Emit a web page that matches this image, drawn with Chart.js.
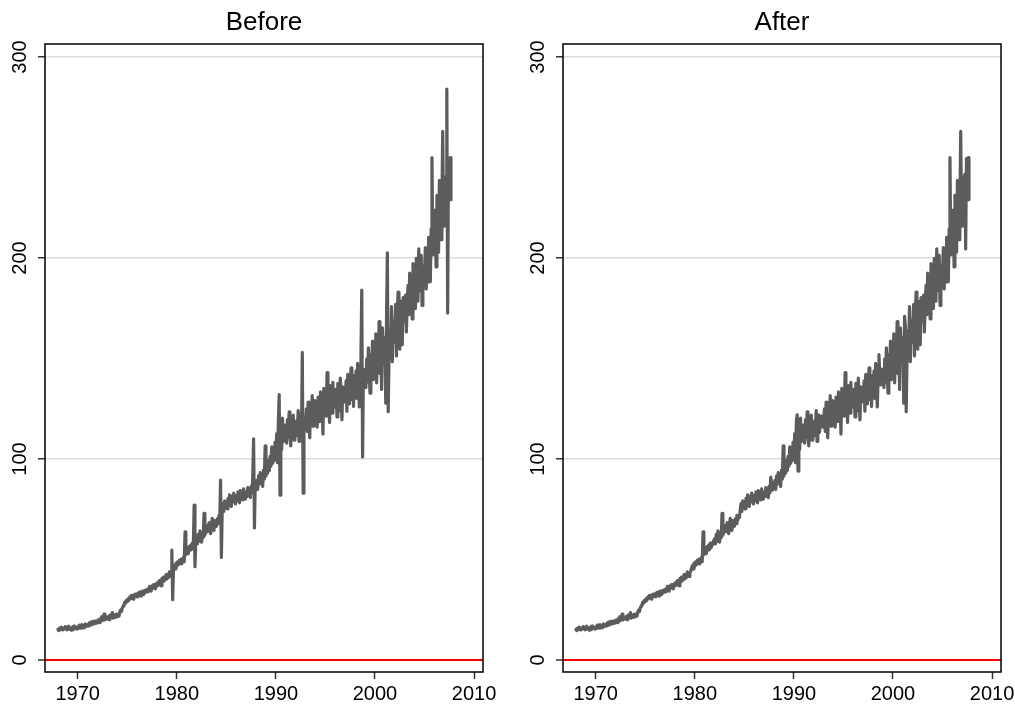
<!DOCTYPE html>
<html>
<head>
<meta charset="utf-8">
<title>Before / After</title>
<script src="https://cdn.jsdelivr.net/npm/chart.js@4.4.1/dist/chart.umd.min.js"></script>
<style>
  body { margin: 0; background: #fff; width: 1015px; height: 706px; overflow: hidden; position: relative; }
  .panel { position: absolute; top: 0; width: 500px; height: 706px; }
</style>
</head>
<body>
<div class="panel" style="left:0"><canvas id="before" width="500" height="706"></canvas></div>
<div class="panel" style="left:518px"><canvas id="after" width="500" height="706"></canvas></div>

<script>
// --- DATA --- //
// monthly observations, first one is January 1968
const startYear = 1968;
const xTicks = [1970, 1980, 1990, 2000, 2010];
const yTicks = [0, 100, 200, 300];

// raw series, one row per year
const beforeValues = [
  15.2, 14.6, 15.8, 15.1, 16.3, 15.5, 14.9, 16.0, 15.4, 16.6, 15.7, 15.0,
  15.6, 16.8, 15.3, 16.1, 14.8, 15.9, 16.5, 15.2, 16.9, 15.8, 16.2, 15.4,
  16.4, 15.6, 17.3, 16.2, 15.8, 17.6, 16.5, 17.1, 16.0, 17.8, 16.7, 17.2,
  17.5, 16.8, 18.4, 17.3, 18.9, 17.7, 18.2, 19.3, 17.9, 18.6, 19.5, 18.3,
  18.8, 19.9, 18.6, 20.4, 19.2, 21.5, 19.6, 20.3, 22.8, 19.9, 20.6, 21.2,
  20.4, 21.6, 20.1, 22.3, 20.9, 21.4, 23.6, 20.8, 21.9, 22.5, 21.2, 22.8,
  21.5, 22.6, 21.8, 23.9, 24.8, 24.1, 25.9, 26.8, 27.5, 28.8, 28.2, 29.6,
  29.0, 30.4, 29.6, 31.2, 30.5, 32.1, 31.0, 30.3, 32.4, 31.5, 32.8, 31.9,
  31.4, 33.2, 32.1, 33.8, 32.5, 31.8, 34.2, 33.0, 32.6, 34.5, 33.6, 34.9,
  33.8, 35.4, 34.2, 36.6, 35.0, 34.3, 36.8, 35.7, 37.5, 36.2, 35.4, 37.9,
  36.8, 38.6, 37.2, 39.5, 38.1, 36.9, 40.6, 38.8, 41.2, 39.4, 40.1, 42.5,
  40.3, 42.6, 41.0, 43.8, 42.2, 41.5, 54.7, 30.0, 45.6, 46.9, 45.3, 48.2,
  46.5, 48.8, 47.4, 49.6, 48.1, 50.2, 47.8, 49.3, 51.0, 48.9, 63.8, 52.4,
  53.6, 55.8, 52.9, 56.4, 54.7, 57.3, 55.1, 58.2, 56.0, 77.0, 46.4, 59.5,
  60.3, 57.8, 62.5, 59.1, 64.2, 61.0, 58.6, 63.4, 60.8, 73.0, 62.1, 64.7,
  63.5, 66.8, 64.0, 68.2, 65.3, 62.8, 67.9, 70.5, 66.1, 64.4, 69.3, 67.0,
  66.5, 70.2, 67.8, 72.0, 69.4, 89.5, 51.0, 74.6, 77.8, 73.9, 79.2, 76.5,
  78.6, 75.2, 80.4, 77.3, 82.1, 79.0, 76.4, 81.5, 78.7, 83.0, 80.2, 77.6,
  81.8, 79.1, 83.6, 80.5, 78.2, 84.3, 81.0, 82.9, 79.6, 85.1, 82.4, 80.0,
  83.5, 81.2, 85.8, 82.6, 84.9, 80.8, 86.4, 83.1, 91.0, 110.0, 65.7, 88.2,
  86.0, 89.4, 84.8, 91.6, 87.5, 93.2, 88.1, 90.7, 86.3, 94.5, 89.9, 106.5,
  91.5, 96.8, 93.0, 99.5, 94.2, 101.3, 96.4, 106.0, 97.8, 103.6, 99.1, 108.4,
  100.5, 112.6, 98.2, 118.9, 132.0, 82.0, 115.4, 104.8, 120.3, 108.6, 116.9, 110.2,
  113.5, 107.9, 119.6, 110.8, 123.4, 112.1, 106.5, 118.2, 114.0, 121.8, 109.4, 116.7,
  111.3, 119.0, 114.6, 124.1, 108.8, 117.5, 121.9, 113.2, 153.0, 83.0, 120.6, 115.8,
  118.4, 124.9, 113.7, 128.3, 119.8, 110.6, 126.2, 121.0, 131.5, 116.3, 123.7, 129.0,
  120.2, 127.5, 115.9, 130.8, 124.1, 118.6, 133.4, 122.7, 127.9, 112.4, 135.2, 125.6,
  129.8, 121.3, 143.0, 124.6, 131.9, 118.2, 136.5, 127.0, 122.8, 138.1, 125.5, 132.7,
  126.4, 134.8, 120.9, 137.6, 129.3, 124.0, 140.2, 131.1, 119.5, 135.9, 128.2, 133.6,
  130.5, 138.9, 123.8, 142.1, 133.0, 127.4, 136.7, 145.3, 129.6, 139.8, 126.2, 141.5,
  134.2, 143.8, 130.1, 147.6, 137.5, 125.9, 140.3, 152.0, 184.0, 101.0, 144.7, 138.3,
  141.2, 135.6, 149.8, 138.4, 155.3, 143.9, 132.7, 152.1, 146.0, 158.7, 139.5, 150.4,
  144.8, 162.3, 137.9, 155.6, 149.1, 168.4, 142.5, 159.8, 134.6, 165.2, 152.7, 147.3,
  160.5, 127.8, 171.0, 202.6, 123.5, 150.6, 163.9, 155.2, 175.8, 148.4, 168.7, 158.1,
  165.4, 176.9, 151.3, 172.2, 183.0, 160.8, 154.6, 178.5, 167.2, 156.9, 180.3, 170.1,
  168.5, 181.6, 163.2, 177.9, 186.4, 171.8, 192.5, 175.3, 184.1, 169.7, 197.2, 182.6,
  186.3, 174.9, 199.8, 188.2, 178.5, 204.6, 191.0, 183.7, 201.3, 176.4, 195.8, 189.5,
  193.1, 205.2, 184.6, 199.4, 187.9, 210.3, 196.8, 188.2, 214.5, 250.0, 201.5, 219.6,
  207.3, 223.8, 195.6, 231.2, 212.4, 202.9, 238.6, 218.3, 209.1, 225.7, 263.0, 221.4,
  215.8, 240.3, 228.9, 284.0, 172.6, 249.5, 236.2, 250.0, 229.0,
];

// cleaned series (outliers replaced)
const afterValues = [
  15.2, 14.6, 15.8, 15.1, 16.3, 15.5, 14.9, 16.0, 15.4, 16.6, 15.7, 15.0,
  15.6, 16.8, 15.3, 16.1, 14.8, 15.9, 16.5, 15.2, 16.9, 15.8, 16.2, 15.4,
  16.4, 15.6, 17.3, 16.2, 15.8, 17.6, 16.5, 17.1, 16.0, 17.8, 16.7, 17.2,
  17.5, 16.8, 18.4, 17.3, 18.9, 17.7, 18.2, 19.3, 17.9, 18.6, 19.5, 18.3,
  18.8, 19.9, 18.6, 20.4, 19.2, 21.5, 19.6, 20.3, 22.8, 19.9, 20.6, 21.2,
  20.4, 21.6, 20.1, 22.3, 20.9, 21.4, 23.6, 20.8, 21.9, 22.5, 21.2, 22.8,
  21.5, 22.6, 21.8, 23.9, 24.8, 24.1, 25.9, 26.8, 27.5, 28.8, 28.2, 29.6,
  29.0, 30.4, 29.6, 31.2, 30.5, 32.1, 31.0, 30.3, 32.4, 31.5, 32.8, 31.9,
  31.4, 33.2, 32.1, 33.8, 32.5, 31.8, 34.2, 33.0, 32.6, 34.5, 33.6, 34.9,
  33.8, 35.4, 34.2, 36.6, 35.0, 34.3, 36.8, 35.7, 37.5, 36.2, 35.4, 37.9,
  36.8, 38.6, 37.2, 39.5, 38.1, 36.9, 40.6, 38.8, 41.2, 39.4, 40.1, 42.5,
  40.3, 42.6, 41.0, 43.8, 42.2, 41.5, 43.2, 44.0, 45.6, 46.9, 45.3, 48.2,
  46.5, 48.8, 47.4, 49.6, 48.1, 50.2, 47.8, 49.3, 51.0, 48.9, 63.8, 52.4,
  53.6, 55.8, 52.9, 56.4, 54.7, 57.3, 55.1, 58.2, 56.0, 57.4, 58.6, 59.5,
  60.3, 57.8, 62.5, 59.1, 64.2, 61.0, 58.6, 63.4, 60.8, 73.0, 62.1, 64.7,
  63.5, 66.8, 64.0, 68.2, 65.3, 62.8, 67.9, 70.5, 66.1, 64.4, 69.3, 67.0,
  66.5, 70.2, 67.8, 72.0, 69.4, 71.5, 70.8, 74.6, 77.8, 73.9, 79.2, 76.5,
  78.6, 75.2, 80.4, 77.3, 82.1, 79.0, 76.4, 81.5, 78.7, 83.0, 80.2, 77.6,
  81.8, 79.1, 83.6, 80.5, 78.2, 84.3, 81.0, 82.9, 79.6, 85.1, 82.4, 80.0,
  83.5, 81.2, 85.8, 82.6, 84.9, 80.8, 86.4, 83.1, 91.0, 87.3, 84.5, 88.2,
  86.0, 89.4, 84.8, 91.6, 87.5, 93.2, 88.1, 90.7, 86.3, 94.5, 89.9, 106.5,
  91.5, 96.8, 93.0, 99.5, 94.2, 101.3, 96.4, 106.0, 97.8, 103.6, 99.1, 108.4,
  100.5, 112.6, 98.2, 118.9, 122.0, 94.0, 115.4, 104.8, 120.3, 108.6, 116.9, 110.2,
  113.5, 107.9, 119.6, 110.8, 123.4, 112.1, 106.5, 118.2, 114.0, 121.8, 109.4, 116.7,
  111.3, 119.0, 114.6, 124.1, 108.8, 117.5, 121.9, 113.2, 118.5, 121.4, 120.6, 115.8,
  118.4, 124.9, 113.7, 128.3, 119.8, 110.6, 126.2, 121.0, 131.5, 116.3, 123.7, 129.0,
  120.2, 127.5, 115.9, 130.8, 124.1, 118.6, 133.4, 122.7, 127.9, 112.4, 135.2, 125.6,
  129.8, 121.3, 143.0, 124.6, 131.9, 118.2, 136.5, 127.0, 122.8, 138.1, 125.5, 132.7,
  126.4, 134.8, 120.9, 137.6, 129.3, 124.0, 140.2, 131.1, 119.5, 135.9, 128.2, 133.6,
  130.5, 138.9, 123.8, 142.1, 133.0, 127.4, 136.7, 145.3, 129.6, 139.8, 126.2, 141.5,
  134.2, 143.8, 130.1, 147.6, 137.5, 125.9, 140.3, 152.0, 141.6, 136.9, 144.7, 138.3,
  141.2, 135.6, 149.8, 138.4, 155.3, 143.9, 132.7, 152.1, 146.0, 158.7, 139.5, 150.4,
  144.8, 162.3, 137.9, 155.6, 149.1, 168.4, 142.5, 159.8, 134.6, 165.2, 152.7, 147.3,
  160.5, 127.8, 171.0, 166.2, 123.5, 150.6, 163.9, 155.2, 175.8, 148.4, 168.7, 158.1,
  165.4, 176.9, 151.3, 172.2, 183.0, 160.8, 154.6, 178.5, 167.2, 156.9, 180.3, 170.1,
  168.5, 181.6, 163.2, 177.9, 186.4, 171.8, 192.5, 175.3, 184.1, 169.7, 197.2, 182.6,
  186.3, 174.9, 199.8, 188.2, 178.5, 204.6, 191.0, 183.7, 201.3, 176.4, 195.8, 189.5,
  193.1, 205.2, 184.6, 199.4, 187.9, 210.3, 196.8, 188.2, 214.5, 250.0, 201.5, 219.6,
  207.3, 223.8, 195.6, 231.2, 212.4, 202.9, 238.6, 218.3, 209.1, 225.7, 263.0, 221.4,
  215.8, 240.3, 228.9, 241.7, 204.5, 249.5, 236.2, 250.0, 229.0,
];

// --- STYLE --- //
const fontFamily = '"Liberation Sans", Arial, Helvetica, sans-serif';
const lineColor = "rgb(92, 92, 92)";

// black box round the plot region
const framePlugin = {
  id: "frame",
  afterDraw(chart) {
    const { ctx, chartArea: a } = chart;
    ctx.save();
    ctx.strokeStyle = "#000";
    ctx.lineWidth = 1.5;
    ctx.strokeRect(a.left, a.top, a.right - a.left, a.bottom - a.top);
    ctx.restore();
  },
};

function toPoints(values) {
  return values.map((v, i) => ({ x: startYear + i / 12, y: v }));
}

function makePanel(canvas, title, values) {
  return new Chart(canvas, {
    type: "line",
    data: {
      datasets: [
        {
          label: title,
          data: toPoints(values),
          borderColor: lineColor,
          borderWidth: 3.2,
          borderJoinStyle: "round",
          borderCapStyle: "round",
          pointRadius: 0,
          tension: 0,
          fill: false,
        },
      ],
    },
    options: {
      responsive: false,
      animation: false,
      layout: { padding: { right: 17 } },
      plugins: {
        legend: { display: false },
        tooltip: { enabled: false },
        title: {
          display: true,
          text: title,
          fullSize: false,
          color: "#000",
          font: { family: fontFamily, size: 26, weight: "normal", lineHeight: 1.2 },
          padding: { top: 7, bottom: 5.8 },
        },
      },
      scales: {
        x: {
          type: "linear",
          min: 1966.7,
          max: 2010.9,
          afterBuildTicks: (s) => { s.ticks = xTicks.map((v) => ({ value: v })); },
          afterFit: (s) => { s.height = 34; },
          border: { display: false },
          grid: { drawOnChartArea: false, tickLength: 7, tickColor: "#333", tickWidth: 1.5 },
          ticks: {
            color: "#000",
            font: { family: fontFamily, size: 20 },
            padding: 3,
            maxRotation: 0,
            autoSkip: false,
            callback: (v) => String(v),
          },
        },
        y: {
          type: "linear",
          min: -6,
          max: 306.5,
          afterBuildTicks: (s) => { s.ticks = yTicks.map((v) => ({ value: v })); },
          afterFit: (s) => { s.width = 45; },
          border: { display: false },
          grid: {
            color: (c) => (c.tick && c.tick.value === 0 ? "#ff0000" : "#dcdcdc"),
            lineWidth: (c) => (c.tick && c.tick.value === 0 ? 2 : 1.5),
            tickLength: 7,
            tickColor: "#333",
            tickWidth: 1.5,
          },
          ticks: {
            color: "#000",
            font: { family: fontFamily, size: 20 },
            minRotation: 90,
            maxRotation: 90,
            crossAlign: "center",
            padding: 1.3,
            callback: (v) => String(v),
          },
        },
      },
    },
    plugins: [framePlugin],
  });
}

// --- PANELS --- //
makePanel(document.getElementById("before"), "Before", beforeValues);
makePanel(document.getElementById("after"), "After", afterValues);
</script>
</body>
</html>
